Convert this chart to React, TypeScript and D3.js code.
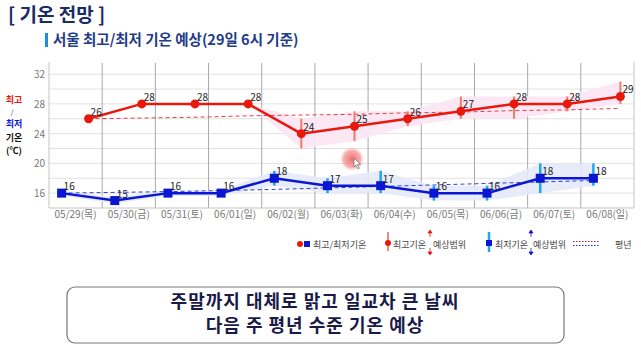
import React, { useEffect, useRef } from 'react';
import * as d3 from 'd3';

const days = ['05/29(목)', '05/30(금)', '05/31(토)', '06/01(일)', '06/02(월)', '06/03(화)', '06/04(수)', '06/05(목)', '06/06(금)', '06/07(토)', '06/08(일)'];
const maxTemp = [26, 28, 28, 28, 24, 25, 26, 27, 28, 28, 29];
const minTemp = [16, 15, 16, 16, 18, 17, 17, 16, 16, 18, 18];
// 예상범위 (null = 범위 없음)
const maxLow = [null, null, null, null, 22, 23, 25, 26, 26, 27, 28];
const maxHigh = [null, null, null, null, 26, 27, 27, 29, 29, 29, 31];
const minLow = [null, null, null, null, 17, 16, 16, 15, 15, 16, 17];
const minHigh = [null, null, null, null, 19, 18, 19, 17, 17, 20, 20];
const maxNormal = [26.0, 26.1, 26.2, 26.4, 26.5, 26.6, 26.8, 26.9, 27.1, 27.2, 27.4];
const minNormal = [16.0, 16.1, 16.2, 16.35, 16.5, 16.7, 16.9, 17.1, 17.3, 17.5, 17.7];
const yTicks = [16, 20, 24, 28, 32];

const FONT = '"Noto Sans CJK KR", "Noto Sans", sans-serif';
const RED = '#e8180c';
const BLUE = '#0a16d2';

export default function App() {
  const ref = useRef<SVGSVGElement>(null);

  useEffect(() => {
    const svg = d3.select(ref.current);
    svg.selectAll('*').remove();

    const x = d3.scaleBand().domain(days).range([49, 634]).paddingInner(0).paddingOuter(0);
    const y = d3.scaleLinear().domain([14, 33.5]).range([208, 63]);
    const bw = x.bandwidth();
    const xr = (i: number) => (x(days[i]) as number) + bw / 2 + 13;
    const xb = (i: number) => (x(days[i]) as number) + bw / 2 - 14;
    const idx = d3.range(days.length);

    // 제목
    svg.append('text').attr('x', 8).attr('y', 22).attr('font-family', FONT)
      .attr('font-size', 19).attr('font-weight', 'bold').attr('fill', '#1b2b63')
      .text('[ 기온 전망 ]');
    svg.append('rect').attr('x', 45).attr('y', 33).attr('width', 3).attr('height', 14).attr('fill', '#1e8fe0');
    svg.append('text').attr('x', 53).attr('y', 45).attr('font-family', FONT)
      .attr('font-size', 14.5).attr('font-weight', 'bold').attr('fill', '#1f3c86')
      .text('서울 최고/최저 기온 예상(29일 6시 기준)');

    // 배경 격자
    const grid = svg.append('g');
    d3.range(16, 33, 2).forEach((v) => {
      grid.append('line').attr('x1', 49).attr('x2', 634).attr('y1', y(v)).attr('y2', y(v))
        .attr('stroke', '#e2e2e2').attr('stroke-width', 1);
    });
    days.forEach((d, i) => {
      if (i === 0) return;
      const bx = x(d) as number;
      grid.append('line').attr('x1', bx).attr('x2', bx).attr('y1', 63).attr('y2', 208)
        .attr('stroke', '#a8a8a8');
    });
    grid.append('line').attr('x1', 49).attr('x2', 49).attr('y1', 62).attr('y2', 208).attr('stroke', '#c4c4c4');
    grid.append('line').attr('x1', 634).attr('x2', 634).attr('y1', 62).attr('y2', 208).attr('stroke', '#c4c4c4');
    grid.append('line').attr('x1', 49).attr('x2', 634).attr('y1', 208).attr('y2', 208).attr('stroke', '#c4c4c4');

    // 축 라벨
    yTicks.forEach((v) => {
      svg.append('text').attr('x', 45).attr('y', y(v) + 4).attr('text-anchor', 'end')
        .attr('font-family', FONT).attr('font-size', 10).attr('fill', '#777').text(v);
    });
    days.forEach((d) => {
      svg.append('text').attr('x', (x(d) as number) + bw / 2).attr('y', 218).attr('text-anchor', 'middle')
        .attr('font-family', FONT).attr('font-size', 10).attr('fill', '#777').text(d);
    });

    // 세로축 제목
    const yl = svg.append('g').attr('font-family', FONT).attr('font-size', 9).attr('font-weight', 'bold').attr('text-anchor', 'middle');
    yl.append('text').attr('x', 14).attr('y', 103).attr('fill', RED).text('최고');
    yl.append('text').attr('x', 12).attr('y', 115).attr('fill', '#333').attr('font-size', 7).attr('font-weight', 'normal').text('/');
    yl.append('text').attr('x', 14).attr('y', 127).attr('fill', BLUE).text('최저');
    yl.append('text').attr('x', 14).attr('y', 140.5).attr('fill', '#111').text('기온');
    yl.append('text').attr('x', 14).attr('y', 154).attr('fill', '#111').text('(℃)');

    // 예상범위 음영
    const lo = (a: (number | null)[], v: number[], i: number) => (a[i] == null ? v[i] : (a[i] as number));
    const bandMax = d3.area<number>().x((i) => xr(i))
      .y0((i) => y(lo(maxLow, maxTemp, i))).y1((i) => y(lo(maxHigh, maxTemp, i)));
    svg.append('path').datum(idx.slice(3)).attr('d', bandMax).attr('fill', '#fce6f3').attr('opacity', 0.95);
    const bandMin = d3.area<number>().x((i) => xb(i))
      .y0((i) => y(lo(minLow, minTemp, i) - (i < 4 ? 0.4 : 0))).y1((i) => y(lo(minHigh, minTemp, i) + (i < 4 ? 0.4 : 0)));
    svg.append('path').datum(idx).attr('d', bandMin).attr('fill', '#e6e9fa').attr('opacity', 0.9);

    // 평년
    const nMax = d3.line<number>().x((i) => xr(i)).y((i) => y(maxNormal[i]));
    svg.append('path').datum(idx).attr('d', nMax).attr('fill', 'none').attr('stroke', '#e84040')
      .attr('stroke-width', 1).attr('stroke-dasharray', '4,3');
    const nMin = d3.line<number>().x((i) => xb(i)).y((i) => y(minNormal[i]));
    svg.append('path').datum(idx).attr('d', nMin).attr('fill', 'none').attr('stroke', '#3040d0')
      .attr('stroke-width', 1).attr('stroke-dasharray', '4,3');

    // 범위 막대
    idx.forEach((i) => {
      if (maxLow[i] != null) {
        svg.append('line').attr('x1', xr(i)).attr('x2', xr(i)).attr('y1', y(maxLow[i] as number)).attr('y2', y(maxHigh[i] as number))
          .attr('stroke', '#f07a6a').attr('stroke-width', 2);
      }
      if (minLow[i] != null) {
        svg.append('line').attr('x1', xb(i)).attr('x2', xb(i)).attr('y1', y(minLow[i] as number)).attr('y2', y(minHigh[i] as number))
          .attr('stroke', '#1ea6f0').attr('stroke-width', 2.5);
      }
    });

    // 최고/최저 선
    const lMax = d3.line<number>().x((i) => xr(i)).y((i) => y(maxTemp[i]));
    svg.append('path').datum(idx).attr('d', lMax).attr('fill', 'none').attr('stroke', RED).attr('stroke-width', 2.5);
    const lMin = d3.line<number>().x((i) => xb(i)).y((i) => y(minTemp[i]));
    svg.append('path').datum(idx).attr('d', lMin).attr('fill', 'none').attr('stroke', BLUE).attr('stroke-width', 2.5);

    svg.append('g').selectAll('circle').data(idx).enter().append('circle')
      .attr('cx', (i) => xr(i)).attr('cy', (i) => y(maxTemp[i])).attr('r', 4.5).attr('fill', RED);
    svg.append('g').selectAll('rect').data(idx).enter().append('rect')
      .attr('x', (i) => xb(i) - 4.5).attr('y', (i) => y(minTemp[i]) - 4.5).attr('width', 9).attr('height', 9).attr('fill', BLUE);

    const lab = svg.append('g').attr('font-family', FONT).attr('font-size', 10).attr('fill', '#222');
    idx.forEach((i) => {
      lab.append('text').attr('x', xr(i) + 2).attr('y', y(maxTemp[i]) - 3).text(maxTemp[i]);
      lab.append('text').attr('x', xb(i) + 2).attr('y', y(minTemp[i]) - 3).text(minTemp[i]);
    });

    // 커서 강조
    const grad = svg.append('defs').append('radialGradient').attr('id', 'cur');
    grad.append('stop').attr('offset', '0%').attr('stop-color', '#f06060').attr('stop-opacity', 0.9);
    grad.append('stop').attr('offset', '70%').attr('stop-color', '#f27878').attr('stop-opacity', 0.6);
    grad.append('stop').attr('offset', '100%').attr('stop-color', '#f8a0a0').attr('stop-opacity', 0);
    svg.append('circle').attr('cx', 352).attr('cy', 159).attr('r', 12).attr('fill', 'url(#cur)');
    svg.append('path').attr('d', 'M354,158 l0,9 l2,-2 l2,4 l1.5,-0.8 l-2,-3.8 l3,0 z')
      .attr('fill', '#fff').attr('stroke', '#555').attr('stroke-width', 0.6);

    // 범례
    const lg = svg.append('g').attr('font-family', FONT).attr('font-size', 9).attr('fill', '#444');
    lg.append('circle').attr('cx', 300).attr('cy', 244).attr('r', 3).attr('fill', RED);
    lg.append('rect').attr('x', 304).attr('y', 241).attr('width', 6).attr('height', 6).attr('fill', BLUE);
    lg.append('text').attr('x', 313).attr('y', 247.5).text('최고/최저기온');

    lg.append('line').attr('x1', 388).attr('x2', 388).attr('y1', 232).attr('y2', 251).attr('stroke', '#f28a7a').attr('stroke-width', 2);
    lg.append('circle').attr('cx', 388).attr('cy', 243).attr('r', 3).attr('fill', RED);
    lg.append('text').attr('x', 393).attr('y', 247.5).text('최고기온');
    lg.append('text').attr('x', 433).attr('y', 247.5).text('예상범위');
    lg.append('path').attr('d', 'M430,230 l-2,3 l4,0 z M430,233 l0,4').attr('stroke', RED).attr('fill', RED).attr('stroke-width', 0.8);
    lg.append('path').attr('d', 'M430,255 l-2,-3 l4,0 z M430,252 l0,-4').attr('stroke', RED).attr('fill', RED).attr('stroke-width', 0.8);

    lg.append('line').attr('x1', 489).attr('x2', 489).attr('y1', 232).attr('y2', 252).attr('stroke', '#1ea6f0').attr('stroke-width', 2.5);
    lg.append('rect').attr('x', 486).attr('y', 240).attr('width', 6).attr('height', 6).attr('fill', BLUE);
    lg.append('text').attr('x', 495).attr('y', 247.5).text('최저기온');
    lg.append('text').attr('x', 533).attr('y', 247.5).text('예상범위');
    lg.append('path').attr('d', 'M531,230 l-2,3 l4,0 z M531,233 l0,4').attr('stroke', BLUE).attr('fill', BLUE).attr('stroke-width', 0.8);
    lg.append('path').attr('d', 'M531,255 l-2,-3 l4,0 z M531,252 l0,-4').attr('stroke', BLUE).attr('fill', BLUE).attr('stroke-width', 0.8);

    lg.append('line').attr('x1', 573).attr('x2', 600).attr('y1', 241.5).attr('y2', 241.5).attr('stroke', '#c02040').attr('stroke-width', 1.2).attr('stroke-dasharray', '1.5,1.5');
    lg.append('line').attr('x1', 573).attr('x2', 600).attr('y1', 245.5).attr('y2', 245.5).attr('stroke', '#2030b0').attr('stroke-width', 1.2).attr('stroke-dasharray', '1.5,1.5');
    lg.append('text').attr('x', 615).attr('y', 247.5).text('평년');

    // 요약 상자
    svg.append('rect').attr('x', 67).attr('y', 287).attr('width', 497).attr('height', 56).attr('rx', 8)
      .attr('fill', '#fff').attr('stroke', '#777').attr('stroke-width', 1.2);
    const bx = svg.append('g').attr('font-family', FONT).attr('font-size', 18).attr('font-weight', 'bold')
      .attr('fill', '#1a1a48').attr('text-anchor', 'middle').attr('letter-spacing', 1);
    bx.append('text').attr('x', 315).attr('y', 308).text('주말까지 대체로 맑고 일교차 큰 날씨');
    bx.append('text').attr('x', 315).attr('y', 332).text('다음 주 평년 수준 기온 예상');
  }, []);

  return (
    <svg ref={ref} width={641} height={353} style={{ position: 'absolute', left: 0, top: 0, background: '#fff' }} />
  );
}
